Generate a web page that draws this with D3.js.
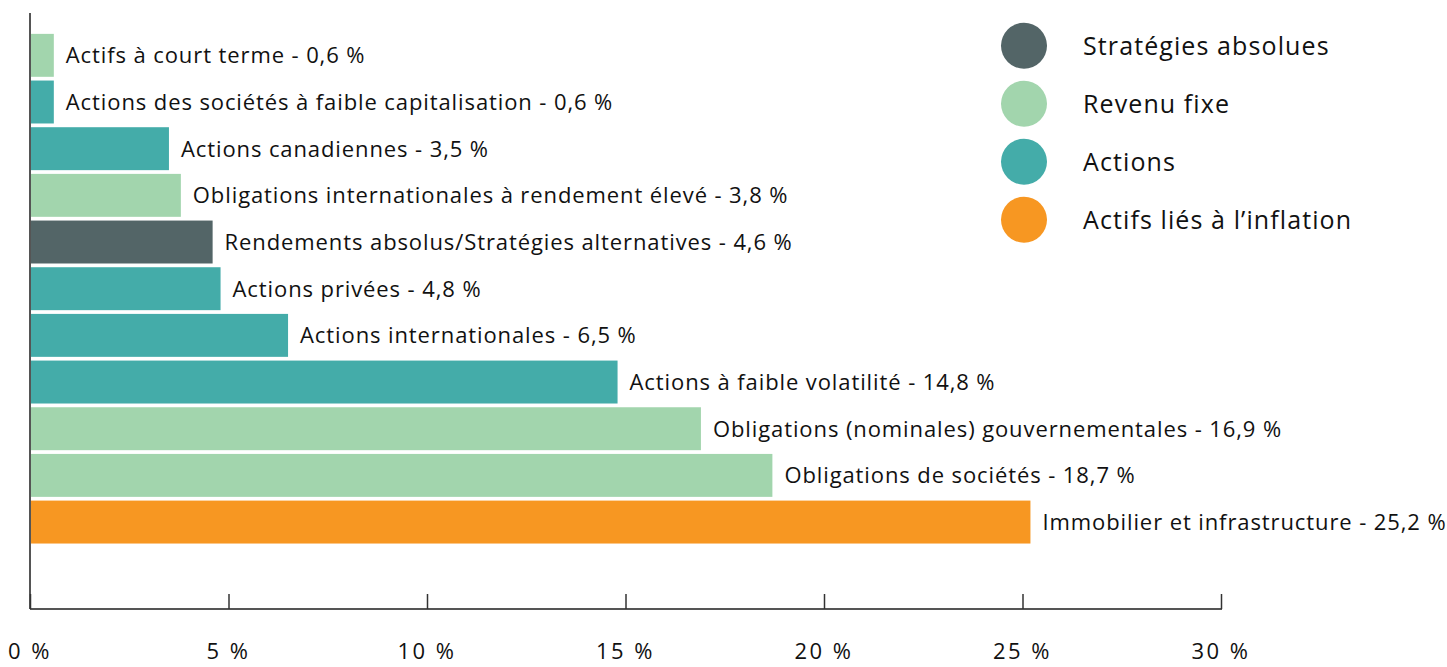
<!DOCTYPE html>
<html><head><meta charset="utf-8">
<script src="https://cdn.jsdelivr.net/npm/d3@7"></script>
<style>body{margin:0;background:#fff}svg{display:block}text{font-family:"Open Sans",sans-serif;fill:#111}</style>
</head><body><svg id="c" width="1447" height="667"></svg>
<script>
const categories = [
  "Actifs à court terme",
  "Actions des sociétés à faible capitalisation",
  "Actions canadiennes",
  "Obligations internationales à rendement élevé",
  "Rendements absolus/Stratégies alternatives",
  "Actions privées",
  "Actions internationales",
  "Actions à faible volatilité",
  "Obligations (nominales) gouvernementales",
  "Obligations de sociétés",
  "Immobilier et infrastructure"
];
const values = [0.6, 0.6, 3.5, 3.8, 4.6, 4.8, 6.5, 14.8, 16.9, 18.7, 25.2];
const groups = ["Revenu fixe","Actions","Actions","Revenu fixe","Stratégies absolues","Actions","Actions","Actions","Revenu fixe","Revenu fixe","Actifs liés à l’inflation"];
const legendNames = ["Stratégies absolues","Revenu fixe","Actions","Actifs liés à l’inflation"];
const legendColors = ["#536567","#a2d5ad","#44aca9","#f79722"];
const tickValues = [0,5,10,15,20,25,30];

const svg = d3.select("#c");
const color = d3.scaleOrdinal().domain(legendNames).range(legendColors);
const x = d3.scaleLinear().domain([0,30]).range([30,1221]);
const y = d3.scaleBand().domain(categories).range([32,545.4]).paddingInner(0.08).paddingOuter(0.04);
const fmt = v => d3.format(".1f")(v).replace(".", ",") + " %";

svg.append("g").selectAll("rect").data(categories).join("rect")
  .attr("x", x(0)).attr("y", d => y(d))
  .attr("width", (d,i) => x(values[i]) - x(0))
  .attr("height", y.bandwidth())
  .attr("fill", (d,i) => color(groups[i]));

svg.append("g").selectAll("text").data(categories).join("text")
  .attr("x", (d,i) => x(values[i]) + 12)
  .attr("y", d => y(d) + y.bandwidth()/2)
  .attr("dy", "0.36em")
  .style("font-size", "22px").style("letter-spacing","0.9px")
  .text((d,i) => d + " - " + fmt(values[i]));

// y axis line
svg.append("line").attr("x1",30).attr("x2",30).attr("y1",13).attr("y2",609)
  .attr("stroke","#555").attr("stroke-width",2);

// x axis
const xAxis = d3.axisTop(x).tickValues(tickValues).tickSize(15).tickFormat("");
const gx = svg.append("g").attr("transform","translate(0,609)").call(xAxis);
gx.select(".domain").attr("stroke","#555").attr("stroke-width",2).attr("d","M30,0H1222");
gx.selectAll(".tick line").attr("stroke","#333").attr("stroke-width",1.5);
svg.append("g").selectAll("text").data(tickValues).join("text")
  .attr("x", d => x(d)).attr("y", 659).attr("text-anchor","middle")
  .style("font-size","22px").style("letter-spacing","2.5px").text(d => d + " %");

// legend
const lg = svg.append("g").selectAll("g").data(legendNames).join("g")
  .attr("transform",(d,i)=>`translate(1024,${45.7 + i*58})`);
lg.append("circle").attr("r",23).attr("fill",(d,i)=>legendColors[i]);
lg.append("text").attr("x",59).attr("dy","0.36em").style("font-size","25px").style("letter-spacing","1.1px").text(d=>d);
</script></body></html>
